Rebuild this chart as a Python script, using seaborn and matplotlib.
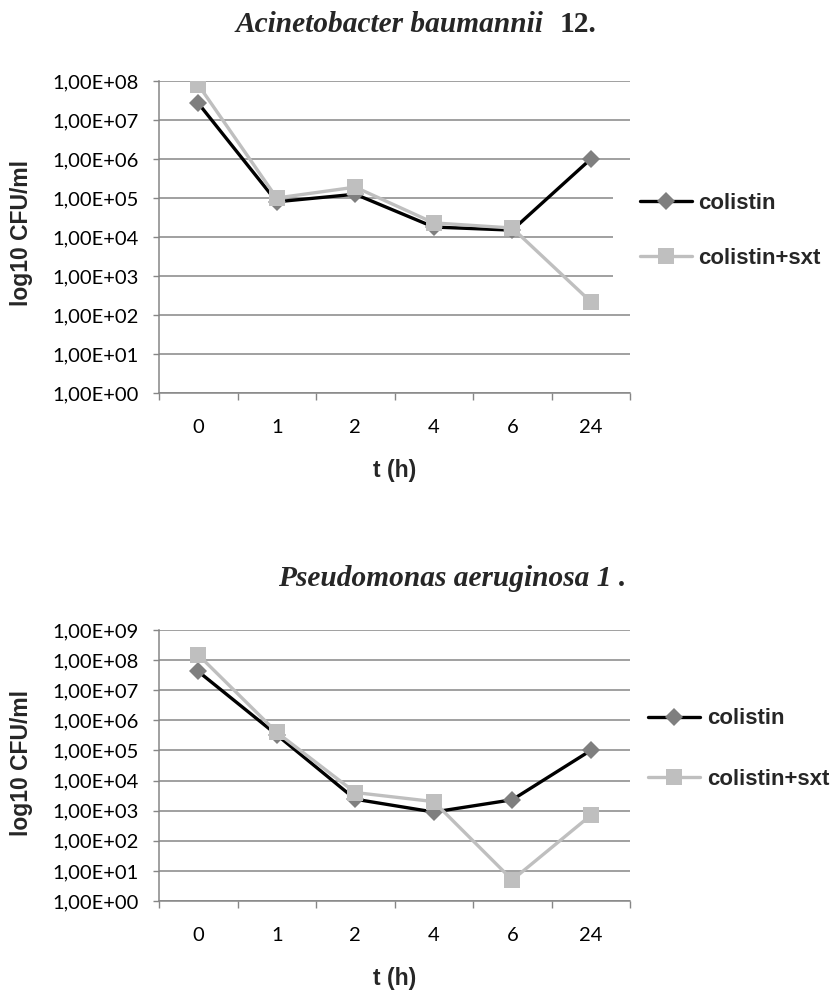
import numpy as np
import pandas as pd
import matplotlib
matplotlib.use("Agg")
import matplotlib.pyplot as plt
import seaborn as sns
from matplotlib.ticker import FixedLocator, NullLocator, FixedFormatter

# ---------------- data ----------------
times = ["0", "1", "2", "4", "6", "24"]
series_names = ["colistin", "colistin+sxt"]

acineto_colistin = [2.7e7, 8.0e4, 1.25e5, 1.8e4, 1.5e4, 1.0e6]
acineto_colistin_sxt = [8.0e7, 1.0e5, 1.9e5, 2.3e4, 1.7e4, 2.2e2]

pseudo_colistin = [4.2e7, 3.3e5, 2.4e3, 9.0e2, 2.3e3, 1.0e5]
pseudo_colistin_sxt = [1.5e8, 4.0e5, 4.0e3, 2.0e3, 5.0, 7.0e2]

top_title_italic = "Acinetobacter baumannii"
top_title_plain = "12."
bottom_title = "Pseudomonas aeruginosa 1 ."
y_label = "log10 CFU/ml"
x_label = "t (h)"

# ---------------- style ----------------
sns.set_style("white")
plt.rcParams["font.family"] = ["Lato", "DejaVu Sans"]

GRID = "#868686"
DARK = "#000000"
DIAM = "#7F7F7F"
LIGHT = "#BFBFBF"
SANS = ["Liberation Sans", "DejaVu Sans"]

W, H = 830, 992
fig = plt.figure(figsize=(W / 100, H / 100), dpi=100)


def px_axes(left, top, right, bottom):
    return fig.add_axes([left / W, 1 - bottom / H, (right - left) / W, (bottom - top) / H])


def draw_panel(ax, col, colsxt, ymax_exp, xlabel_y, legend_cfg):
    df = pd.DataFrame({
        "pos": np.arange(len(times)),
        series_names[0]: col,
        series_names[1]: colsxt,
    })
    sns.lineplot(data=df, x="pos", y=series_names[0], ax=ax, color=DARK, lw=2.4,
                 marker="D", markersize=9.5, markerfacecolor=DIAM, markeredgecolor=DIAM,
                 markeredgewidth=0, label=series_names[0], zorder=3)
    sns.lineplot(data=df, x="pos", y=series_names[1], ax=ax, color=LIGHT, lw=2.4,
                 marker="s", markersize=12, markerfacecolor=LIGHT, markeredgecolor=LIGHT,
                 markeredgewidth=0, label=series_names[1], zorder=4)

    ax.set_yscale("log")
    ax.set_ylim(1, 10 ** ymax_exp)
    ax.set_xlim(-0.5, len(times) - 0.5)

    exps = list(range(0, ymax_exp + 1))
    ax.yaxis.set_major_locator(FixedLocator([10.0 ** k for k in exps]))
    ax.yaxis.set_major_formatter(FixedFormatter([f"1,00E+{k:02d}" for k in exps]))
    ax.yaxis.set_minor_locator(NullLocator())

    ax.xaxis.set_major_locator(FixedLocator(list(range(len(times)))))
    ax.xaxis.set_major_formatter(FixedFormatter(times))
    ax.xaxis.set_minor_locator(FixedLocator([i - 0.5 for i in range(len(times) + 1)]))

    ax.set_axisbelow(True)
    ax.yaxis.grid(True, color=GRID, lw=1.1)
    ax.xaxis.grid(False)
    for s in ["top", "right"]:
        ax.spines[s].set_visible(False)
    for s in ["left", "bottom"]:
        ax.spines[s].set_color(GRID)
        ax.spines[s].set_linewidth(1.1)

    ax.tick_params(axis="y", which="major", length=4.5, width=1.0, color=GRID,
                   direction="out", pad=10, labelsize=14.5, labelcolor="black", left=True)
    ax.tick_params(axis="x", which="major", length=0, pad=19, labelsize=14.5,
                   labelcolor="black", bottom=True)
    ax.tick_params(axis="x", which="minor", length=5, width=1.0, color=GRID,
                   direction="out", bottom=True)

    ax.set_xlabel(x_label, fontsize=16.5, fontweight="bold", va="center", family=SANS)
    ax.set_ylabel(y_label, fontsize=16.5, fontweight="bold", va="center", family=SANS)
    bb = ax.get_position()
    ax_h_px = bb.height * H
    ax_bottom_px = (1 - bb.y0) * H
    ax_top_px = (1 - bb.y1) * H
    ax.xaxis.set_label_coords(0.5, -(xlabel_y - ax_bottom_px) / ax_h_px)
    ax.yaxis.set_label_coords(-(159 - 22) / 471, 1 - (legend_cfg["ylab_y"] - ax_top_px) / ax_h_px)

    leg = ax.legend(loc="center left",
                    bbox_to_anchor=(legend_cfg["x"] / W, 1 - legend_cfg["y"] / H),
                    bbox_transform=fig.transFigure, borderaxespad=0,
                    frameon=legend_cfg["frame"], borderpad=legend_cfg["borderpad"],
                    handlelength=2.35, handletextpad=legend_cfg["textpad"],
                    labelspacing=legend_cfg["spacing"],
                    prop={"family": SANS, "weight": "bold", "size": 16})
    if legend_cfg["frame"]:
        fr = leg.get_frame()
        fr.set_facecolor("white")
        fr.set_edgecolor("none")
        fr.set_alpha(1.0)
        fr.set_boxstyle("square", pad=0)
    return ax


ax1 = px_axes(159, 81, 630, 393)
draw_panel(ax1, acineto_colistin, acineto_colistin_sxt, 8, 470,
           {"x": 613, "y": 231, "frame": True, "borderpad": 1.2, "textpad": 0.3,
            "spacing": 1.53, "ylab_y": 233})

ax2 = px_axes(159, 630, 630, 901)
draw_panel(ax2, pseudo_colistin, pseudo_colistin_sxt, 9, 978,
           {"x": 648, "y": 749, "frame": False, "borderpad": 0.0, "textpad": 0.3,
            "spacing": 1.77, "ylab_y": 763})

serif = ["Liberation Serif", "DejaVu Serif"]
fig.text(543 / W, 1 - 32 / H, top_title_italic, family=serif, style="italic",
         weight="bold", fontsize=21.2, ha="right", va="baseline")
fig.text(560 / W, 1 - 32 / H, top_title_plain, family=serif, weight="bold",
         fontsize=21.2, ha="left", va="baseline")
fig.text(278 / W, 1 - 586 / H, bottom_title, family=serif, style="italic",
         weight="bold", fontsize=21.2, ha="left", va="baseline")

fig.savefig("out.png", dpi=100, facecolor="white")
